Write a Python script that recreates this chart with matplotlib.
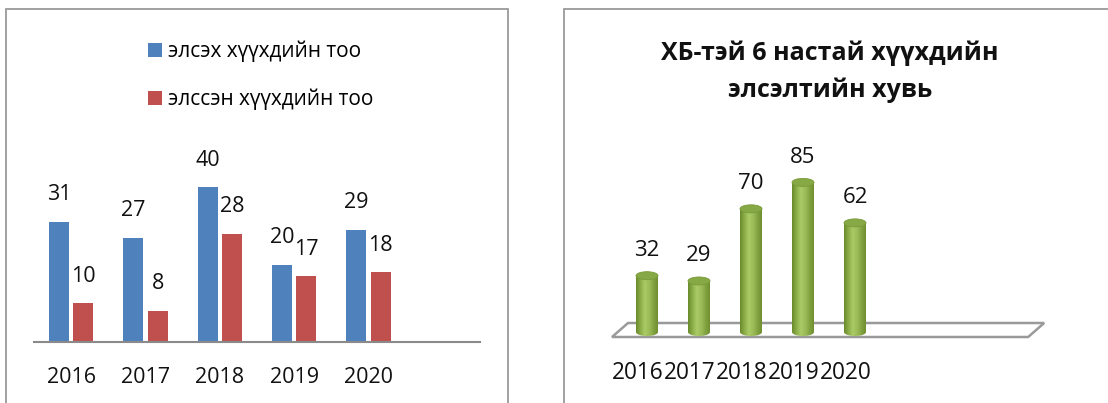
import matplotlib.pyplot as plt
import numpy as np
from matplotlib.patches import Rectangle, Ellipse, Polygon, PathPatch
from matplotlib.path import Path
from matplotlib.colors import LinearSegmentedColormap

plt.rcParams['font.family'] = ['Open Sans', 'DejaVu Sans']

# Data
years = ['2016', '2017', '2018', '2019', '2020']
applying = [31, 27, 40, 20, 29]      # элсэх хүүхдийн тоо
admitted = [10, 8, 28, 17, 18]       # элссэн хүүхдийн тоо
percent = [32, 29, 70, 85, 62]       # элсэлтийн хувь

legend_labels = ['элсэх хүүхдийн тоо', 'элссэн хүүхдийн тоо']
title_right = 'ХБ-тэй 6 настай хүүхдийн\nэлсэлтийн хувь'

W, H = 1108, 403
fig = plt.figure(figsize=(W / 100, H / 100), dpi=100, facecolor='white')


def px_axes(left, top, right, bottom):
    # axes placed by pixel edges (top-left origin)
    return fig.add_axes([left / W, 1 - bottom / H, (right - left) / W, (bottom - top) / H])


# panel borders
for x0, x1 in [(6, 508), (564, 1120)]:
    fig.patches.append(Rectangle((x0 / W, -0.05), (x1 - x0) / W, 1.05 - 9 / H,
                                 transform=fig.transFigure, fill=False,
                                 edgecolor='#9a9a9a', linewidth=1.3))

# ---------------- left: clustered bars ----------------
ax = px_axes(34, 342 - 50 * 3.87, 480, 342)
x = np.arange(len(years))
bw = 0.27
b1 = ax.bar(x - 0.165, applying, bw, color='#4F81BD')
b2 = ax.bar(x + 0.165, admitted, bw, color='#C0504D')
ax.set_xlim(-0.5, 5.5)
ax.set_ylim(0, 50)
for bars, vals in [(b1, applying), (b2, admitted)]:
    for r, v in zip(bars, vals):
        ax.annotate(str(v), (r.get_x() + r.get_width() / 2, v), xytext=(0, 19.5),
                    textcoords='offset points', ha='center', va='center',
                    fontsize=15.5, color='#111111')
for i, y in enumerate(years):
    ax.text(i, -9.3, y, ha='center', va='center', fontsize=15.5, color='#111111',
            clip_on=False)
ax.axhline(0, color='#8a8a8a', linewidth=1.5, clip_on=False)
for s in ax.spines.values():
    s.set_visible(False)
ax.set_xticks([])
ax.set_yticks([])
ax.patch.set_alpha(0)
ax.legend([b1, b2], legend_labels, loc='upper left', frameon=False,
          bbox_to_anchor=(138 / W, 1 - 30 / H), bbox_transform=fig.transFigure,
          fontsize=15, handlelength=0.65, handleheight=0.65, handletextpad=0.3,
          labelspacing=1.3, borderpad=0)

# ---------------- right: cylinders ----------------
scale = 1.76          # px per unit
cat = 52.0            # px per category
x0px, y0px = 647, 332
ax2 = px_axes(x0px - cat, y0px - 100 * scale, x0px + 8 * cat, y0px + 10 * scale)
ax2.set_xlim(-1, 8)
ax2.set_ylim(-10, 100)
for s in ax2.spines.values():
    s.set_visible(False)
ax2.set_xticks([])
ax2.set_yticks([])
ax2.patch.set_alpha(0)

# floor (8 category slots, thin 3d plate)
dx = 16 / cat
front, back = -5 / scale, 9 / scale
floor = Polygon([(-0.673, front), (7.33, front), (7.33 + dx, back), (-0.673 + dx, back)],
                closed=True, facecolor='white', edgecolor='#9a9a9a', linewidth=1.8,
                clip_on=False, zorder=1)
ax2.add_patch(floor)

cmap = LinearSegmentedColormap.from_list('cyl', ['#6a8a2c', '#8cae48', '#a9ca66',
                                                  '#9cbd58', '#83a442', '#6f8f30'])
cw = 22 / cat
eh = 8 / scale
grad = np.linspace(0, 1, 64).reshape(1, -1)
for i, v in enumerate(percent):
    xl, xr = i - cw / 2, i + cw / 2
    t = np.linspace(np.pi, 2 * np.pi, 30)
    bottom_arc = [(i + cw / 2 * np.cos(a), eh / 2 * np.sin(a)) for a in t]
    verts = bottom_arc + [(xr, v), (xl, v), bottom_arc[0]]
    clip = PathPatch(Path(verts, closed=True), transform=ax2.transData,
                     facecolor='none', edgecolor='none')
    ax2.add_patch(clip)
    im = ax2.imshow(grad, cmap=cmap, extent=(xl, xr, -eh, v), aspect='auto',
                    zorder=3, interpolation='bilinear')
    im.set_clip_path(clip)
    ax2.add_patch(Ellipse((i, v), cw, eh, facecolor='#86a845', edgecolor='#7a9a3a',
                          linewidth=0.6, zorder=4))
    ax2.annotate(str(v), (i, v), xytext=(0, 18), textcoords='offset points',
                 ha='center', va='center', fontsize=16, color='#111111')
    ax2.text(i - 0.17, -41 / scale, years[i], ha='center', va='center',
             fontsize=16.3, color='#111111', clip_on=False)

ax2.set_xlim(-1, 8)
ax2.set_ylim(-10, 100)

fig.text(830 / W, 1 - 72 / H, title_right, ha='center', va='center', fontsize=18,
         fontweight='bold', color='#111111', linespacing=1.6)

fig.savefig('out.png', dpi=100)
